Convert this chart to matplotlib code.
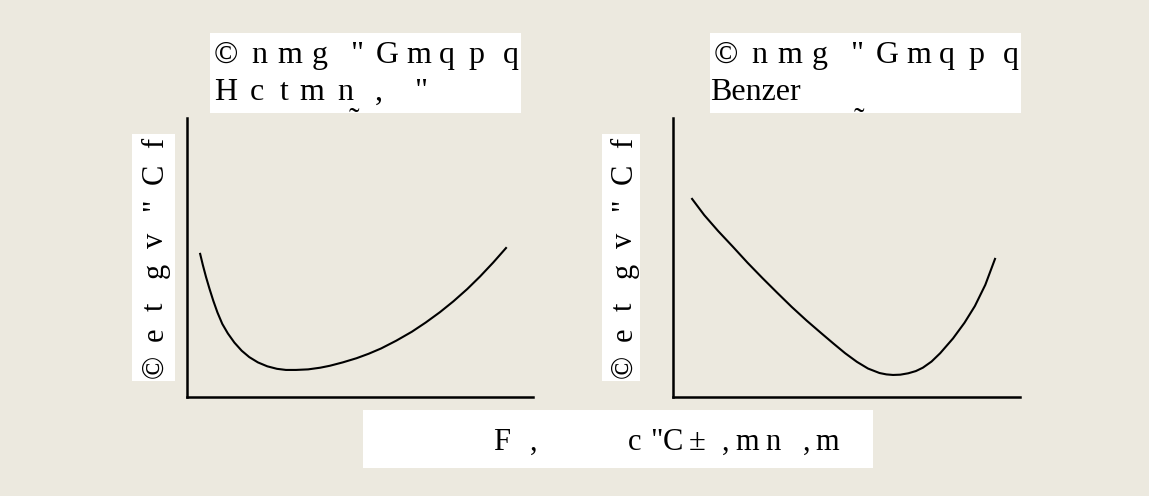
import matplotlib.pyplot as plt
from matplotlib.patches import Rectangle

W, H = 1149, 496
BG = '#ECE9DF'

# curve data, axes units 0..10
left_x = [0.38, 0.46, 0.55, 0.65, 0.76, 0.88, 1.02, 1.18, 1.37, 1.58, 1.80, 2.05, 2.32, 2.60,
          2.86, 3.15, 3.50, 3.85, 4.13, 4.50, 4.90, 5.25, 5.61, 6.05, 6.50, 6.90, 7.31,
          7.70, 8.10, 8.47, 8.85, 9.22]
left_y = [5.13, 4.72, 4.30, 3.88, 3.45, 3.03, 2.62, 2.28, 1.95, 1.66, 1.43, 1.24, 1.10, 1.01,
          0.97, 0.97, 0.99, 1.05, 1.12, 1.24, 1.39, 1.55, 1.74, 2.02, 2.34, 2.67, 3.04,
          3.43, 3.87, 4.32, 4.82, 5.34]
right_x = [0.55, 0.90, 1.30, 1.73, 2.15, 2.58, 3.00, 3.42, 3.85, 4.27, 4.62, 4.96, 5.30,
           5.62, 5.95, 6.15, 6.34, 6.55, 6.78, 7.00, 7.20, 7.45, 7.70, 8.07, 8.40, 8.70,
           9.00, 9.28]
right_y = [7.10, 6.52, 5.95, 5.38, 4.81, 4.26, 3.74, 3.23, 2.74, 2.29, 1.92, 1.57, 1.26,
           1.02, 0.86, 0.81, 0.79, 0.80, 0.85, 0.93, 1.05, 1.27, 1.57, 2.10, 2.66, 3.26,
           4.02, 4.95]

# garbled labels, glyph by glyph
title1 = ['©', 'n', 'm', 'g', '"', 'G', 'm', 'q', 'p', 'q']
title2_left = ['H', 'c', 't', 'm', 'n', ',', '"']
title2_right = 'Benzer'
ylab = ['©', 'e', 't', 'g', 'v', '"', 'C', 'f']
xlab = ['F', ',', 'c', '"', 'C', '±', ',', 'm', 'n', ',', 'm']

# glyph start offsets (px)
t1_off = [4, 41, 67, 102, 140, 166, 196, 229, 258, 293]
t2_off = [4, 40, 70, 89, 127, 165, 204]
y_off = [378, 341, 311, 278, 248, 211, 184, 148]
x_off = [493, 530, 628, 650, 663, 689, 722, 735, 765, 803, 815]

FONT = 'Liberation Serif'
FS = 22
FS_T = 23

fig = plt.figure(figsize=(W / 100, H / 100), dpi=100)
fig.patch.set_facecolor(BG)


def fx(x):
    return x / W


def fy(y):
    return 1 - y / H


def box(x0, y0, x1, y1):
    fig.patches.append(Rectangle((fx(x0), fy(y1)), (x1 - x0) / W, (y1 - y0) / H,
                                 transform=fig.transFigure, facecolor='white',
                                 edgecolor='none', zorder=0))


def glyph(ch, x, y, rot=0, fs=FS):
    fig.text(fx(x), fy(y), ch, family=FONT, fontsize=fs, ha='left', va='baseline',
             rotation=rot, rotation_mode='anchor', color='black')


panels = [
    (187, 533, left_x, left_y, 210, 132, 175, 163, True),
    (673, 1020, right_x, right_y, 710, 602, 640, 632, False),
]

for ax0, ax1, xs, ys, tbx, ylb0, ylb1, ybase, is_left in panels:
    ax = fig.add_axes([fx(ax0), fy(397), (ax1 - ax0) / W, (397 - 118) / H])
    ax.set_facecolor('none')
    ax.plot(xs, ys, color='black', lw=1.5, solid_joinstyle='round')
    ax.set_xlim(0, 10)
    ax.set_ylim(0, 10)
    ax.set_xticks([])
    ax.set_yticks([])
    for s in ['top', 'right']:
        ax.spines[s].set_visible(False)
    for s in ['left', 'bottom']:
        ax.spines[s].set_linewidth(1.8)
        ax.spines[s].set_color('black')

    # title box
    box(tbx, 33, tbx + 311, 113)
    for ch, o in zip(title1, t1_off):
        glyph(ch, tbx + o, 63, fs=FS_T)
    if is_left:
        for ch, o in zip(title2_left, t2_off):
            glyph(ch, tbx + o, 100, fs=FS_T)
        glyph('˜', tbx + 139, 129, fs=FS_T)
    else:
        glyph(title2_right, tbx, 100, fs=FS_T)
        glyph('˜', tbx + 144, 129, fs=FS_T)

    # y label box
    box(ylb0, 134, ylb1, 381)
    for ch, o in zip(ylab, y_off):
        glyph(ch, ybase, o, rot=90)

# x label box
box(363, 410, 873, 468)
for ch, o in zip(xlab, x_off):
    glyph(ch, o, 450)

fig.savefig('out.png', dpi=100, facecolor=BG)
